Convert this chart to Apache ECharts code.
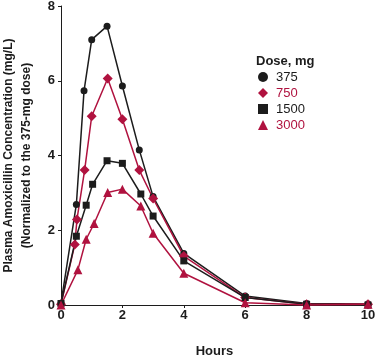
<!DOCTYPE html>
<html>
<head>
<meta charset="utf-8">
<script src="https://cdn.jsdelivr.net/npm/echarts@6/dist/echarts.min.js"></script>
<style>
html,body{margin:0;padding:0;background:#fff;}
#chart{width:375px;height:359px;}
</style>
</head>
<body>
<div id="chart"></div>
<script>
// Data
const doseLabels = ['375', '750', '1500', '3000'];
const xTicks = [0, 2, 4, 6, 8, 10];
const yTicks = [0, 2, 4, 6, 8];

const t375  = [0, 0.5, 0.75, 1, 1.5, 2, 2.55, 3, 4, 6, 8, 10];
const c375  = [0.05, 2.69, 5.73, 7.10, 7.46, 5.86, 4.15, 2.90, 1.38, 0.24, 0.04, 0.03];

const t750  = [0, 0.45, 0.52, 0.77, 1, 1.52, 2, 2.55, 3, 4, 6, 8, 10];
const c750  = [0.02, 1.62, 2.29, 3.61, 5.05, 6.06, 4.97, 3.61, 2.85, 1.31, 0.20, 0.02, 0.02];

const t1500 = [0, 0.5, 0.82, 1.03, 1.5, 2, 2.6, 3, 4, 6, 8, 10];
const c1500 = [0.04, 1.84, 2.67, 3.23, 3.86, 3.79, 2.97, 2.38, 1.18, 0.20, 0.02, 0.0];

const t3000 = [0, 0.55, 0.82, 1.08, 1.52, 2, 2.6, 3, 4, 6, 8, 10];
const c3000 = [0.0, 0.94, 1.76, 2.18, 3.01, 3.10, 2.65, 1.92, 0.85, 0.06, 0.0, 0.02];

const BLACK = '#1c1c1c';
const RED = '#b0123f';
const FONT = '"Liberation Sans", Arial, sans-serif';

function pairs(t, c) { return t.map((x, i) => [x, c[i]]); }

const seriesDefs = [
  { name: doseLabels[0], t: t375,  c: c375,  color: BLACK, symbol: 'circle',  size: 7 },
  { name: doseLabels[1], t: t750,  c: c750,  color: RED,   symbol: 'diamond', size: 10 },
  { name: doseLabels[2], t: t1500, c: c1500, color: BLACK, symbol: 'rect',    size: 7 },
  { name: doseLabels[3], t: t3000, c: c3000, color: RED,   symbol: 'triangle',size: 9 }
];

const chart = echarts.init(document.getElementById('chart'), null, { renderer: 'canvas' });

chart.setOption({
  animation: false,
  backgroundColor: '#ffffff',
  textStyle: { fontFamily: FONT },
  grid: { left: 61, right: 7, top: 6, bottom: 54, containLabel: false, outerBoundsMode: 'none' },
  title: {
    text: 'Dose, mg',
    left: 251, top: 50,
    textStyle: { fontFamily: FONT, fontWeight: 'bold', fontSize: 13, color: BLACK }
  },
  legend: {
    orient: 'vertical',
    left: 253, top: 65,
    itemWidth: 10, itemHeight: 10, itemGap: 2,
    textStyle: { fontFamily: FONT, fontSize: 13, lineHeight: 14, padding: [0, 0, 0, 3] },
    data: seriesDefs.map(s => ({
      name: s.name,
      icon: s.symbol,
      itemStyle: { color: s.color },
      textStyle: { color: s.color }
    }))
  },
  xAxis: {
    type: 'value',
    min: xTicks[0], max: xTicks[xTicks.length - 1], interval: 2,
    name: 'Hours', nameLocation: 'middle', nameGap: 40,
    nameTextStyle: { fontFamily: FONT, fontWeight: 'bold', fontSize: 13, color: BLACK },
    axisLine: { lineStyle: { color: BLACK, width: 1 } },
    axisTick: { show: true, length: 3, lineStyle: { color: BLACK } },
    axisLabel: { fontFamily: FONT, fontWeight: 'bold', fontSize: 13, color: BLACK, margin: 4 },
    splitLine: { show: false }
  },
  yAxis: {
    type: 'value',
    min: yTicks[0], max: yTicks[yTicks.length - 1], interval: 2,
    name: 'Plasma Amoxicillin Concentration (mg/L)\n(Normalized to the 375-mg dose)',
    nameLocation: 'middle', nameGap: 25, nameRotate: 90,
    nameTextStyle: { fontFamily: FONT, fontWeight: 'bold', fontSize: 12, color: BLACK, lineHeight: 18 },
    axisLine: { show: true, lineStyle: { color: BLACK, width: 1 } },
    axisTick: { show: true, length: 3, lineStyle: { color: BLACK } },
    axisLabel: { fontFamily: FONT, fontWeight: 'bold', fontSize: 13, color: BLACK, margin: 6 },
    splitLine: { show: false }
  },
  series: seriesDefs.map(s => ({
    name: s.name,
    type: 'line',
    data: pairs(s.t, s.c),
    symbol: s.symbol,
    symbolSize: s.size,
    showAllSymbol: true,
    clip: false,
    lineStyle: { color: s.color, width: 1.5 },
    itemStyle: { color: s.color }
  }))
});
</script>
</body>
</html>
